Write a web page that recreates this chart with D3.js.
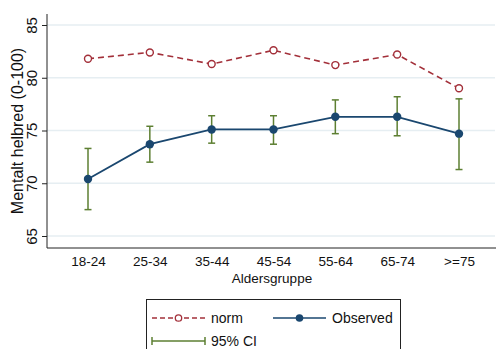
<!DOCTYPE html>
<html>
<head>
<meta charset="utf-8">
<script src="https://cdn.jsdelivr.net/npm/d3@7"></script>
<style>
    body { margin: 0; background: #fff; }
    svg { display: block; font-family: 'Liberation Sans', Arial, sans-serif; }
</style>
</head>
<body>
<svg id="chart" width="496" height="349"></svg>
<script>
// age groups
var ageGroups = ['18-24', '25-34', '35-44', '45-54', '55-64', '65-74', '>=75'];

// norm values
var normValues = [81.8, 82.4, 81.3, 82.6, 81.2, 82.2, 79.0];

// observed means and 95% CI
var observedValues = [70.4, 73.7, 75.1, 75.1, 76.3, 76.3, 74.7];
var ciLow = [67.5, 72.0, 73.8, 73.7, 74.7, 74.5, 71.3];
var ciHigh = [73.3, 75.4, 76.4, 76.4, 77.9, 78.2, 78.0];

var yTicks = [65, 70, 75, 80, 85];

var colors = {
    norm: '#a3303a',
    observed: '#1a476f',
    ci: '#5d7f32',
    grid: '#e6eef2'
};

var margin = { left: 47, top: 14, right: 0, bottom: 101 };
var width = 496, height = 349;

var svg = d3.select('#chart');

var x = d3.scalePoint()
    .domain(ageGroups)
    .range([88, 459]);

var y = d3.scaleLinear()
    .domain([65, 85])
    .range([236, 25]);

// gridlines
svg.append('g')
    .selectAll('line')
    .data(yTicks)
    .join('line')
    .attr('x1', margin.left)
    .attr('x2', width - 1)
    .attr('y1', function(d) { return y(d); })
    .attr('y2', function(d) { return y(d); })
    .attr('stroke', colors.grid)
    .attr('stroke-width', 1.5);

// y axis
var yAxis = svg.append('g')
    .attr('transform', 'translate(' + margin.left + ',0)')
    .call(d3.axisLeft(y).tickValues(yTicks).tickSize(5).tickPadding(3));
yAxis.select('.domain').attr('d', 'M0,' + margin.top + 'V248').attr('stroke', '#222');
yAxis.selectAll('.tick line').attr('stroke', '#222');
yAxis.selectAll('.tick text')
    .attr('font-size', 15)
    .attr('fill', '#111')
    .attr('text-anchor', 'middle')
    .attr('x', 0).attr('dy', 0)
    .attr('transform', 'translate(-10,0) rotate(-90)');

// x axis
var xAxis = svg.append('g')
    .attr('transform', 'translate(0,248)')
    .call(d3.axisBottom(x).tickSize(0).tickPadding(8));
xAxis.select('.domain').attr('d', 'M' + margin.left + ',0H' + width).attr('stroke', '#222');
xAxis.selectAll('.tick text')
    .attr('font-size', 13.5)
    .attr('fill', '#111');

// axis titles
svg.append('text')
    .attr('transform', 'translate(23,131) rotate(-90)')
    .attr('text-anchor', 'middle')
    .attr('font-size', 16)
    .attr('fill', '#111')
    .text('Mentalt helbred (0-100)');

svg.append('text')
    .attr('x', 272)
    .attr('y', 283)
    .attr('text-anchor', 'middle')
    .attr('font-size', 13.5)
    .attr('fill', '#111')
    .text('Aldersgruppe');

// norm line
var normLine = d3.line()
    .x(function(d, i) { return x(ageGroups[i]); })
    .y(function(d) { return y(d); });

svg.append('path')
    .datum(normValues)
    .attr('d', normLine)
    .attr('fill', 'none')
    .attr('stroke', colors.norm)
    .attr('stroke-width', 1.6)
    .attr('stroke-dasharray', '6,4');

svg.append('g')
    .selectAll('circle')
    .data(normValues)
    .join('circle')
    .attr('cx', function(d, i) { return x(ageGroups[i]); })
    .attr('cy', function(d) { return y(d); })
    .attr('r', 3.5)
    .attr('fill', '#fff')
    .attr('stroke', colors.norm)
    .attr('stroke-width', 1.4);

// CI bars
var ci = svg.append('g').attr('stroke', colors.ci).attr('stroke-width', 1.5);
ageGroups.forEach(function(g, i) {
    var cx = x(g);
    ci.append('line')
        .attr('x1', cx).attr('x2', cx)
        .attr('y1', y(ciLow[i])).attr('y2', y(ciHigh[i]));
    [ciLow[i], ciHigh[i]].forEach(function(v) {
        ci.append('line')
            .attr('x1', cx - 3.5).attr('x2', cx + 3.5)
            .attr('y1', y(v)).attr('y2', y(v));
    });
});

// observed line
svg.append('path')
    .datum(observedValues)
    .attr('d', normLine)
    .attr('fill', 'none')
    .attr('stroke', colors.observed)
    .attr('stroke-width', 1.8);

svg.append('g')
    .selectAll('circle')
    .data(observedValues)
    .join('circle')
    .attr('cx', function(d, i) { return x(ageGroups[i]); })
    .attr('cy', function(d) { return y(d); })
    .attr('r', 4.2)
    .attr('fill', colors.observed);

// legend
var legend = svg.append('g');
legend.append('rect')
    .attr('x', 146.5).attr('y', 299.5)
    .attr('width', 254).attr('height', 60)
    .attr('fill', '#fff')
    .attr('stroke', '#222')
    .attr('stroke-width', 1);

legend.append('line')
    .attr('x1', 152).attr('x2', 205).attr('y1', 318).attr('y2', 318)
    .attr('stroke', colors.norm).attr('stroke-width', 1.5)
    .attr('stroke-dasharray', '5,3');
legend.append('circle')
    .attr('cx', 178.5).attr('cy', 318).attr('r', 3.2)
    .attr('fill', '#fff').attr('stroke', colors.norm).attr('stroke-width', 1.3);
legend.append('text')
    .attr('x', 211).attr('y', 323)
    .attr('font-size', 14).attr('fill', '#111')
    .text('norm');

legend.append('line')
    .attr('x1', 273).attr('x2', 326).attr('y1', 318).attr('y2', 318)
    .attr('stroke', colors.observed).attr('stroke-width', 1.6);
legend.append('circle')
    .attr('cx', 299.5).attr('cy', 318).attr('r', 3.8)
    .attr('fill', colors.observed);
legend.append('text')
    .attr('x', 332).attr('y', 323)
    .attr('font-size', 14).attr('fill', '#111')
    .text('Observed');

var ciLeg = legend.append('g').attr('stroke', colors.ci).attr('stroke-width', 1.5);
ciLeg.append('line').attr('x1', 152).attr('x2', 205).attr('y1', 341).attr('y2', 341);
ciLeg.append('line').attr('x1', 152).attr('x2', 152).attr('y1', 337).attr('y2', 345);
ciLeg.append('line').attr('x1', 205).attr('x2', 205).attr('y1', 337).attr('y2', 345);
legend.append('text')
    .attr('x', 211).attr('y', 346)
    .attr('font-size', 14).attr('fill', '#111')
    .text('95% CI');
</script>
</body>
</html>
